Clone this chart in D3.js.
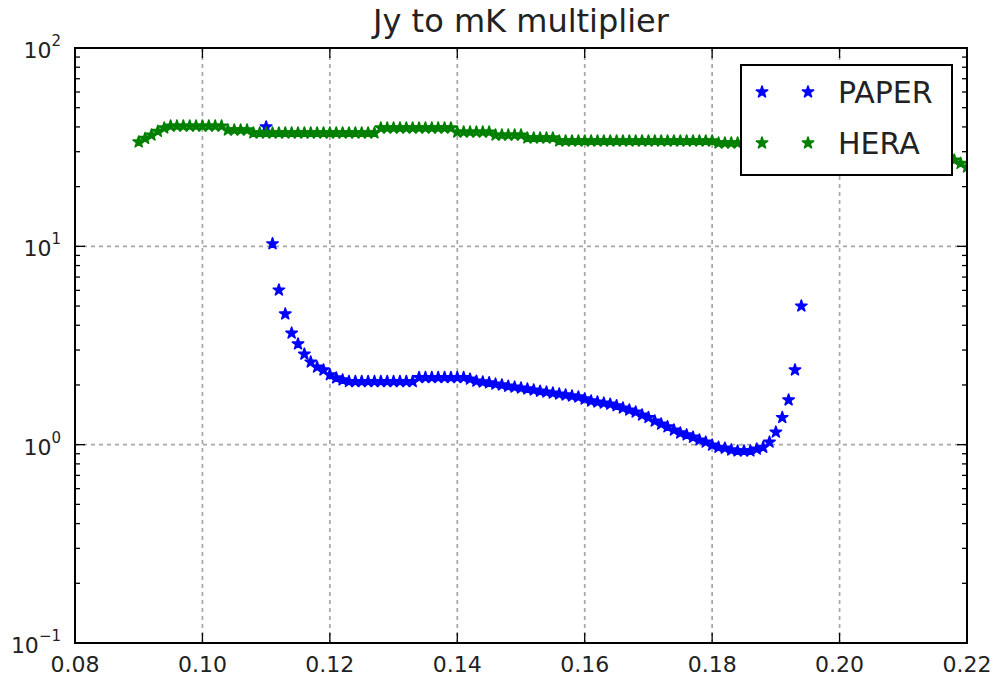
<!DOCTYPE html>
<html>
<head>
<meta charset="utf-8">
<script src="https://cdn.jsdelivr.net/npm/d3@7"></script>
<style>
  body { margin: 0; background: #fff; }
  svg { display: block; font-family: "DejaVu Sans", sans-serif; }
</style>
</head>
<body>
<div id="chart"></div>
<script>
// frequencies (GHz) and multipliers
var paperFreq = [
  0.110, 0.111, 0.112, 0.113, 0.114, 0.115, 0.116, 0.117, 0.118, 0.119,
  0.120, 0.121, 0.122, 0.123, 0.124, 0.125, 0.126, 0.127, 0.128, 0.129,
  0.130, 0.131, 0.132, 0.133, 0.134, 0.135, 0.136, 0.137, 0.138, 0.139,
  0.140, 0.141, 0.142, 0.143, 0.144, 0.145, 0.146, 0.147, 0.148, 0.149,
  0.150, 0.151, 0.152, 0.153, 0.154, 0.155, 0.156, 0.157, 0.158, 0.159,
  0.160, 0.161, 0.162, 0.163, 0.164, 0.165, 0.166, 0.167, 0.168, 0.169,
  0.170, 0.171, 0.172, 0.173, 0.174, 0.175, 0.176, 0.177, 0.178, 0.179,
  0.180, 0.181, 0.182, 0.183, 0.184, 0.185, 0.186, 0.187, 0.188, 0.189,
  0.190, 0.191, 0.192, 0.193, 0.194
];
var paperVals = [
  40.0, 10.3, 6.02, 4.56, 3.65, 3.22, 2.86, 2.61, 2.46, 2.38,
  2.25, 2.17, 2.12, 2.08, 2.08, 2.08, 2.08, 2.08, 2.08, 2.08,
  2.08, 2.08, 2.08, 2.08, 2.18, 2.18, 2.18, 2.18, 2.18, 2.18,
  2.18, 2.18, 2.14, 2.09, 2.07, 2.05, 2.02, 2.00, 1.97, 1.95,
  1.93, 1.91, 1.885, 1.86, 1.84, 1.82, 1.80, 1.78, 1.76, 1.74,
  1.70, 1.66, 1.64, 1.62, 1.60, 1.57, 1.53, 1.495, 1.46, 1.41,
  1.37, 1.315, 1.27, 1.23, 1.185, 1.145, 1.12, 1.09, 1.055, 1.03,
  0.995, 0.97, 0.96, 0.94, 0.93, 0.93, 0.93, 0.95, 0.97, 1.03,
  1.157, 1.37, 1.68, 2.38, 5.0
];

var heraFreq = [
  0.090, 0.091, 0.092, 0.093, 0.094, 0.095, 0.096, 0.097, 0.098, 0.099,
  0.100, 0.101, 0.102, 0.103, 0.104, 0.105, 0.106, 0.107, 0.108, 0.109,
  0.110, 0.111, 0.112, 0.113, 0.114, 0.115, 0.116, 0.117, 0.118, 0.119,
  0.120, 0.121, 0.122, 0.123, 0.124, 0.125, 0.126, 0.127, 0.128, 0.129,
  0.130, 0.131, 0.132, 0.133, 0.134, 0.135, 0.136, 0.137, 0.138, 0.139,
  0.140, 0.141, 0.142, 0.143, 0.144, 0.145, 0.146, 0.147, 0.148, 0.149,
  0.150, 0.151, 0.152, 0.153, 0.154, 0.155, 0.156, 0.157, 0.158, 0.159,
  0.160, 0.161, 0.162, 0.163, 0.164, 0.165, 0.166, 0.167, 0.168, 0.169,
  0.170, 0.171, 0.172, 0.173, 0.174, 0.175, 0.176, 0.177, 0.178, 0.179,
  0.180, 0.181, 0.182, 0.183, 0.184, 0.185, 0.186, 0.187, 0.188, 0.189,
  0.190, 0.191, 0.192, 0.193, 0.194, 0.195, 0.196, 0.197, 0.198, 0.199,
  0.200, 0.201, 0.202, 0.203, 0.204, 0.205, 0.206, 0.207, 0.208, 0.209,
  0.210, 0.211, 0.212, 0.213, 0.214, 0.215, 0.216, 0.217, 0.218, 0.219,
  0.220
];
var heraVals = [
  33.6, 35.0, 36.4, 38.0, 39.5, 40.4, 40.4, 40.4, 40.4, 40.4,
  40.4, 40.4, 40.4, 40.4, 38.6, 38.6, 38.6, 38.6, 37.3, 37.3,
  37.3, 37.3, 37.3, 37.3, 37.3, 37.3, 37.3, 37.3, 37.3, 37.3,
  37.3, 37.3, 37.3, 37.3, 37.3, 37.3, 37.3, 37.3, 39.5, 39.5,
  39.5, 39.5, 39.5, 39.5, 39.5, 39.5, 39.5, 39.5, 39.5, 39.5,
  37.7, 37.7, 37.7, 37.7, 37.7, 37.7, 36.4, 36.4, 36.4, 36.4,
  36.4, 35.2, 35.2, 35.2, 35.2, 35.2, 34.0, 34.0, 34.0, 34.0,
  34.0, 34.0, 34.0, 34.0, 34.0, 34.0, 34.0, 34.0, 34.0, 34.0,
  34.0, 34.0, 34.0, 34.0, 34.0, 34.0, 34.0, 34.0, 34.0, 34.0,
  34.0, 33.2, 33.2, 33.2, 33.2, 33.2, 33.2, 33.2, 33.2, 33.2,
  33.2, 32.6, 32.6, 32.6, 32.6, 32.6, 32.6, 32.6, 32.6, 32.6,
  32.6, 31.8, 31.8, 31.8, 31.8, 31.8, 31.8, 31.8, 31.8, 31.8,
  31.8, 31.0, 31.0, 31.0, 31.0, 31.0, 29.8, 28.2, 27.2, 26.2,
  25.1
];

var xTicks = [0.08, 0.10, 0.12, 0.14, 0.16, 0.18, 0.20, 0.22];
var yTickExp = [-1, 0, 1, 2];

var seriesNames = ["PAPER", "HERA"];
var seriesColors = ["#0000ff", "#008000"];

// set the dimensions and margins of the graph
var W = 999, H = 681;
var margin = {top: 48, right: 32, bottom: 38, left: 75},
    width = W - margin.left - margin.right,
    height = H - margin.top - margin.bottom;

var x = d3.scaleLinear().domain([0.08, 0.22]).range([0, width]);
var y = d3.scaleLog().domain([0.1, 100]).range([height, 0]);

var svg = d3.select("#chart").append("svg")
    .attr("width", W)
    .attr("height", H);

var g = svg.append("g")
    .attr("transform", "translate(" + margin.left + "," + margin.top + ")");

g.append("clipPath").attr("id", "plotclip")
  .append("rect").attr("width", width).attr("height", height);

// grid lines
var grid = g.append("g").attr("class", "grid");
grid.selectAll("line.gx")
    .data(xTicks)
    .enter().append("line")
    .attr("x1", function(d) { return x(d); })
    .attr("x2", function(d) { return x(d); })
    .attr("y1", 0).attr("y2", height);
grid.selectAll("line.gy")
    .data(yTickExp)
    .enter().append("line")
    .attr("x1", 0).attr("x2", width)
    .attr("y1", function(d) { return y(Math.pow(10, d)); })
    .attr("y2", function(d) { return y(Math.pow(10, d)); });
grid.selectAll("line")
    .attr("stroke", "#a6a6a6")
    .attr("stroke-width", 1.7)
    .attr("stroke-dasharray", "4,4");

// data points
var star = d3.symbol().type(d3.symbolStar).size(40);
var series = [
  {name: seriesNames[0], color: seriesColors[0], freq: paperFreq, vals: paperVals},
  {name: seriesNames[1], color: seriesColors[1], freq: heraFreq, vals: heraVals}
];

function styleMarker(sel, color) {
  sel.attr("d", star)
    .attr("fill", color)
    .attr("stroke", color)
    .attr("stroke-width", 1.6)
    .attr("stroke-linejoin", "round");
}

var plot = g.append("g").attr("clip-path", "url(#plotclip)");
series.forEach(function(s) {
  var pts = s.freq.map(function(f, i) { return [f, s.vals[i]]; });
  plot.append("g")
    .selectAll("path")
    .data(pts)
    .enter().append("path")
    .call(styleMarker, s.color)
    .attr("transform", function(d) {
      return "translate(" + x(d[0]) + "," + y(d[1]) + ")";
    });
});

// ticks, all pointing inward
var xMajor = 10, yMinorLen = 5;
var ticks = g.append("g").attr("stroke", "#000").attr("stroke-width", 1.3);
xTicks.forEach(function(t) {
  ticks.append("line").attr("x1", x(t)).attr("x2", x(t)).attr("y1", height).attr("y2", height - xMajor);
  ticks.append("line").attr("x1", x(t)).attr("x2", x(t)).attr("y1", 0).attr("y2", xMajor);
});
y.ticks().forEach(function(v) {
  var major = Math.abs(Math.log10(v) - Math.round(Math.log10(v))) < 1e-9;
  var len = major ? xMajor : yMinorLen;
  ticks.append("line").attr("x1", 0).attr("x2", len).attr("y1", y(v)).attr("y2", y(v));
  ticks.append("line").attr("x1", width).attr("x2", width - len).attr("y1", y(v)).attr("y2", y(v));
});

// frame
g.append("rect")
    .attr("width", width).attr("height", height)
    .attr("fill", "none").attr("stroke", "#000").attr("stroke-width", 2);

// x tick labels
g.append("g").selectAll("text")
    .data(xTicks)
    .enter().append("text")
    .attr("x", function(d) { return x(d); })
    .attr("y", height + 29)
    .attr("text-anchor", "middle")
    .attr("font-size", 22)
    .attr("fill", "#222")
    .text(function(d) { return d3.format(".2f")(d); });

// y tick labels 10^n
var yl = g.append("g").selectAll("text")
    .data(yTickExp)
    .enter().append("text")
    .attr("x", -14)
    .attr("y", function(d) { return y(Math.pow(10, d)) + 10; })
    .attr("text-anchor", "end")
    .attr("font-size", 22)
    .attr("fill", "#222");
yl.append("tspan").text("10");
yl.append("tspan")
    .attr("dy", -12)
    .attr("font-size", 15)
    .text(function(d) { return d < 0 ? "\u2212" + Math.abs(d) : d; });

// title
svg.append("text")
    .attr("x", margin.left + width / 2)
    .attr("y", 32)
    .attr("text-anchor", "middle")
    .attr("font-size", 32)
    .attr("fill", "#222")
    .text("Jy to mK multiplier");

// legend
var lg = svg.append("g").attr("transform", "translate(741,65)");
lg.append("rect")
    .attr("width", 211).attr("height", 110)
    .attr("fill", "#fff").attr("stroke", "#000").attr("stroke-width", 2);
series.forEach(function(s, i) {
  var cy = 27 + i * 51;
  [21, 67].forEach(function(px) {
    lg.append("path").call(styleMarker, s.color)
      .attr("transform", "translate(" + px + "," + cy + ")");
  });
  lg.append("text")
    .attr("x", 97).attr("y", cy + 11)
    .attr("font-size", 30)
    .attr("fill", "#222")
    .text(s.name);
});
</script>
</body>
</html>
